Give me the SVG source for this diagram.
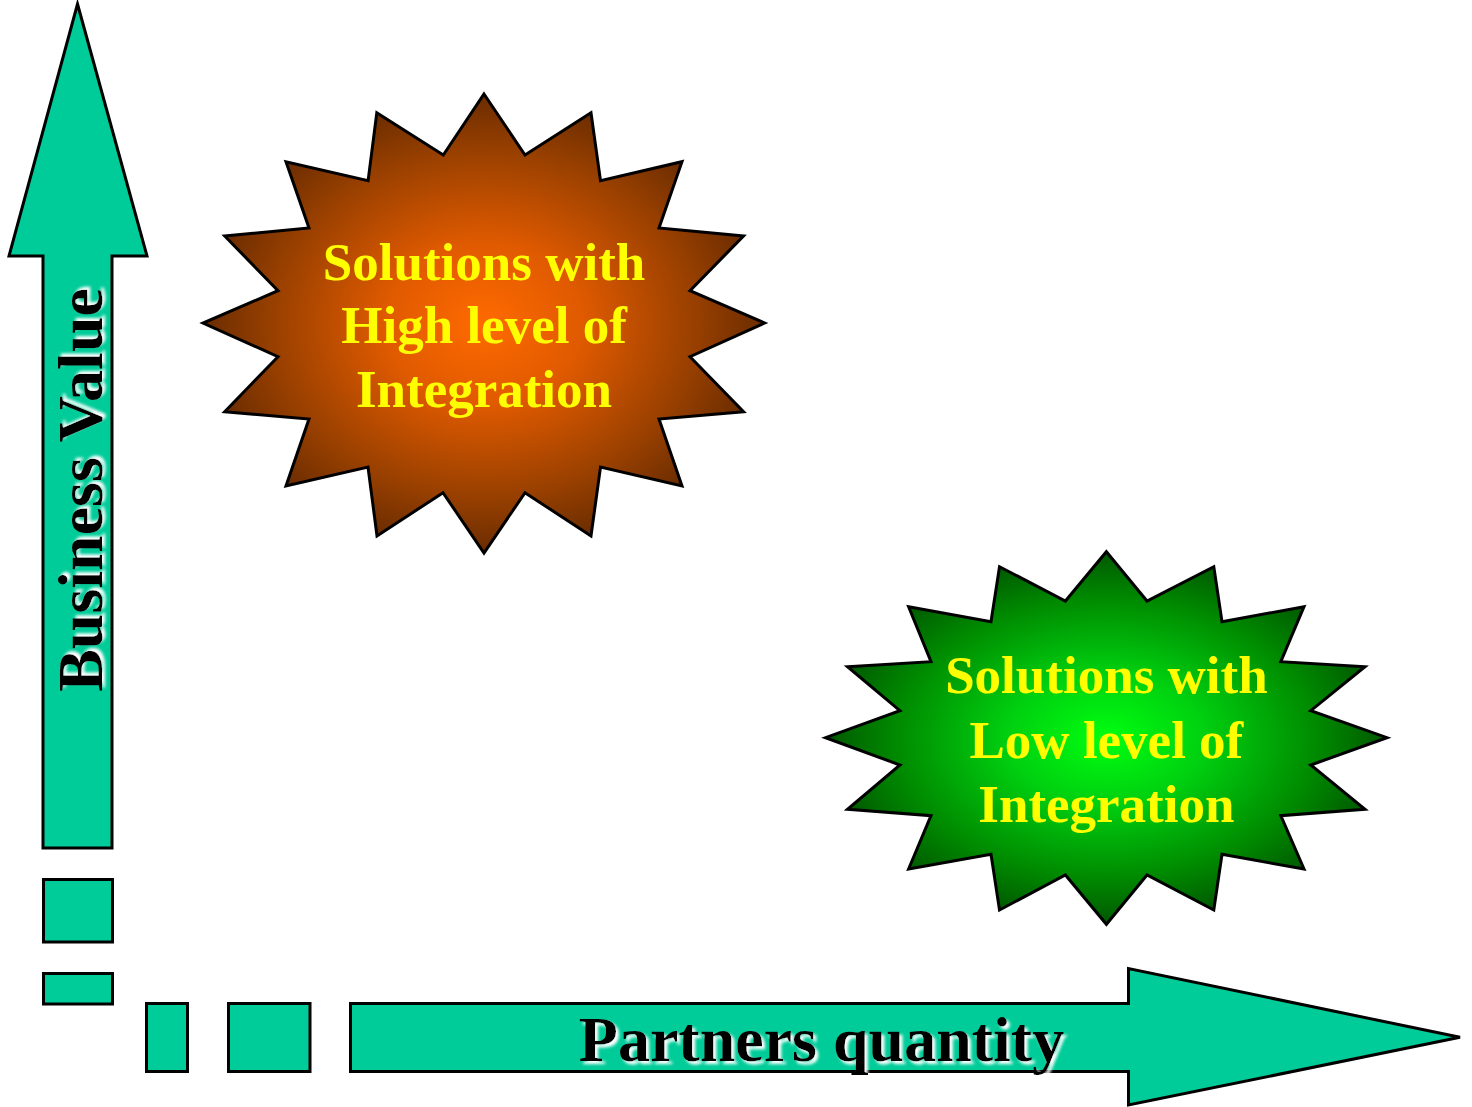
<svg xmlns="http://www.w3.org/2000/svg" width="1472" height="1107" viewBox="0 0 1472 1107">
<style>
.ax{fill:#00CC99;stroke:#000;stroke-width:3;stroke-linejoin:miter}
.star{stroke:#000;stroke-width:3;stroke-linejoin:miter}
.lbl{font-family:"Liberation Serif","Times New Roman",serif;font-weight:bold;font-size:53px;fill:#FFFF00;text-anchor:middle}
.axl{font-family:"Liberation Serif","Times New Roman",serif;font-weight:bold;font-size:64px;fill:#000;text-anchor:middle}
</style>
<defs>
<radialGradient id="gOrange" cx="0.5" cy="0.5" r="0.5">
<stop offset="0" stop-color="#FF6A00"/>
<stop offset="0.35" stop-color="#E05A00"/>
<stop offset="0.75" stop-color="#994000"/>
<stop offset="1" stop-color="#6A2C00"/>
</radialGradient>
<radialGradient id="gGreen" cx="0.5" cy="0.5" r="0.5">
<stop offset="0" stop-color="#00FF10"/>
<stop offset="0.35" stop-color="#00D010"/>
<stop offset="0.75" stop-color="#008A00"/>
<stop offset="1" stop-color="#005800"/>
</radialGradient>
<filter id="glow" x="-10%" y="-20%" width="120%" height="140%">
<feOffset in="SourceAlpha" dx="3" dy="3" result="o"/>
<feGaussianBlur in="o" stdDeviation="1.5" result="b"/>
<feFlood flood-color="#FFFFFF"/>
<feComposite in2="b" operator="in" result="w"/>
<feMerge><feMergeNode in="w"/><feMergeNode in="SourceGraphic"/></feMerge>
</filter>
</defs>

<g id="axes">
<g id="y-axis">
<polygon class="ax" points="77.5,4 147,256 112,256 112,848 43,848 43,256 9,256"/>
<rect class="ax" x="43.5" y="879.5" width="69" height="62.5"/>
<rect class="ax" x="43.5" y="973.5" width="69" height="30.5"/>
<text class="axl" transform="translate(102,490) rotate(-90)" filter="url(#glow)">Business Value</text>
</g>
<g id="x-axis">
<rect class="ax" x="146.5" y="1003.5" width="41" height="68"/>
<rect class="ax" x="228.5" y="1003.5" width="81.5" height="68"/>
<polygon class="ax" points="350.5,1003.5 1128.5,1003.5 1128.5,968.5 1460,1037.3 1128.5,1105 1128.5,1071.5 350.5,1071.5"/>
<text class="axl" x="821.5" y="1061" filter="url(#glow)">Partners quantity</text>
</g>
</g>

<g id="node-high">
<polygon class="star" fill="url(#gOrange)" points="484,94 525,155 591,112.7 600.5,180.7 682,161.7 659,228 743.6,236 690,290.7 764.6,323 690,356.7 743.6,411.7 659,419 682,486 600.5,467 591,536 525,492.7 484,553 443,492.7 377,536 368,467 286,486 309,419 224.7,411.7 278,356.7 203,323 278,290.7 224.7,236 309,228 286,161.7 368.1,180.7 376.8,112.7 443.3,155"/>
<text class="lbl" x="484" y="280">Solutions with</text>
<text class="lbl" x="484" y="343.3">High level of</text>
<text class="lbl" x="484" y="406.7">Integration</text>
</g>

<g id="node-low">
<polygon class="star" fill="url(#gGreen)" points="1106.4,551.7 1147,601 1213.8,566.7 1222,621.7 1304,606.7 1280.8,661.7 1365,666.7 1310.8,710.7 1387,737.7 1310.8,765 1365,809.3 1280.8,815.7 1304,869 1222,854.3 1213.8,910 1147,875 1106.4,924.3 1065.4,875 999.5,910 991,854.3 908.6,869 931,815.7 847.5,809.3 900,765 825.5,737.7 899.9,710.7 847.5,666.7 931,661.7 908.6,606.7 991,621.7 999.5,566.7 1065.4,601"/>
<text class="lbl" x="1106.4" y="693.3">Solutions with</text>
<text class="lbl" x="1106.4" y="757.7">Low level of</text>
<text class="lbl" x="1106.4" y="821.7">Integration</text>
</g>
</svg>
